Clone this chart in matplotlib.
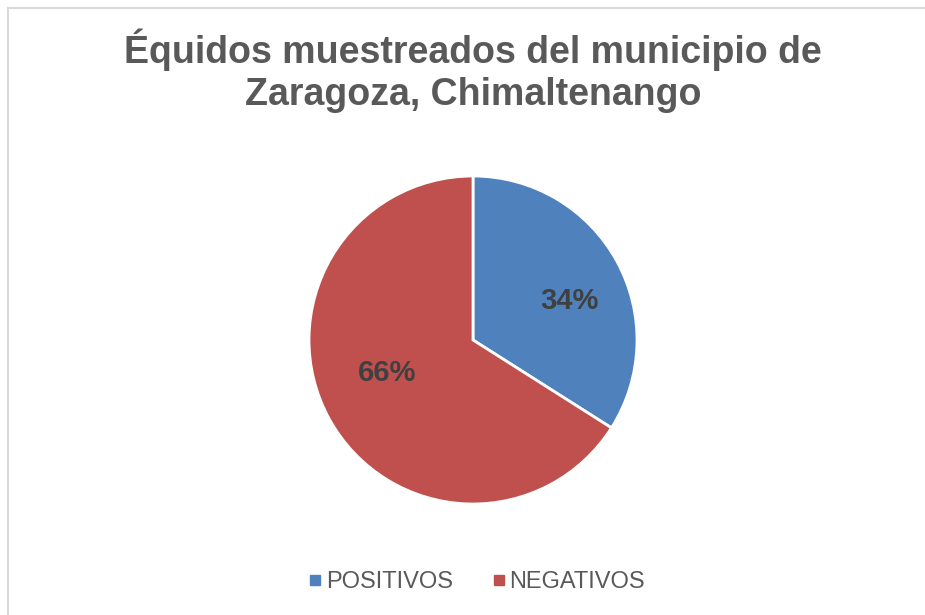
import matplotlib
matplotlib.use("Agg")
import matplotlib.pyplot as plt
from matplotlib.lines import Line2D

plt.rcParams["font.family"] = ["Liberation Sans", "DejaVu Sans"]

# data
labels = ["POSITIVOS", "NEGATIVOS"]
shares = [34, 66]
colors = ["#4F81BD", "#C0504D"]
title = "Équidos muestreados del municipio de\nZaragoza, Chimaltenango"

fig = plt.figure(figsize=(9.25, 6.15), dpi=100)

# chart frame (only left and top edges visible)
fig.add_artist(Line2D([8 / 925, 8 / 925], [0, 1 - 8 / 615], color="#D9D9D9", lw=1.5))
fig.add_artist(Line2D([8 / 925, 1], [1 - 8 / 615, 1 - 8 / 615], color="#D9D9D9", lw=1.5))

fig.text(473 / 925, 1 - 71 / 615, title, ha="center", va="center",
         fontsize=27, fontweight="bold", color="#595959", linespacing=1.2)

# pie centred at (473, 340) px, radius 164 px
cx, cy, r = 473 / 925, 1 - 340 / 615, 164
ax = fig.add_axes([cx - r / 925, cy - r / 615, 2 * r / 925, 2 * r / 615])
wedges, texts, autotexts = ax.pie(
    shares, colors=colors, startangle=90, counterclock=False,
    autopct="%d%%", pctdistance=0.6, radius=1,
    wedgeprops=dict(edgecolor="white", linewidth=2),
    textprops=dict(fontsize=21, fontweight="bold", color="#404040"))
# nudge labels to where Excel puts them
for t, (dx, dy) in zip(autotexts, [(0.06, -0.05), (0.0, 0.09)]):
    x, y = t.get_position()
    t.set_position((x + dx, y + dy))
ax.set_xlim(-1, 1)
ax.set_ylim(-1, 1)
ax.set_aspect("equal")

handles = [plt.Line2D([], [], marker="s", ls="", markersize=7, color=c) for c in colors]
fig.legend(handles, labels, loc="center", bbox_to_anchor=(476 / 925, 1 - 582 / 615),
           ncol=2, frameon=False, fontsize=17, labelcolor="#595959",
           handletextpad=0.1, columnspacing=1.6, handlelength=0.7)

fig.savefig("out.png", dpi=100, facecolor="white")
